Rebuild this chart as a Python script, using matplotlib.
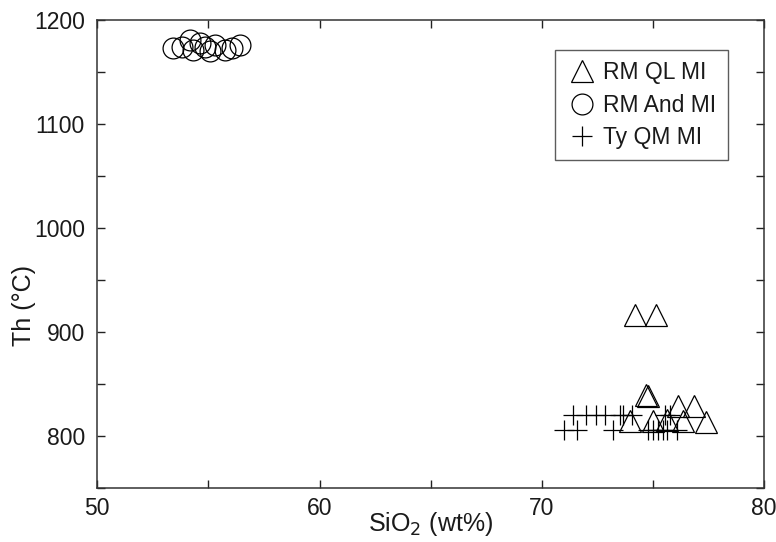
import matplotlib
matplotlib.use("Agg")
import matplotlib.pyplot as plt
from matplotlib.ticker import MultipleLocator

plt.rcParams['font.family'] = ['Liberation Sans', 'DejaVu Sans']

# RM QL MI (triangles)
ql_sio2 = [74.20, 75.14, 74.69, 74.80, 76.13, 76.85, 73.97, 75.00, 75.64, 76.36, 77.40]
ql_th = [916, 916, 839, 838, 828, 828, 814, 814, 815, 814, 813]

# RM And MI (circles)
and_sio2 = [53.42, 53.80, 54.17, 54.32, 54.62, 54.85, 55.07, 55.30, 55.75, 56.05, 56.42]
and_th = [1173, 1174, 1181, 1171, 1178, 1174, 1170, 1176, 1171, 1173, 1176]

# Ty QM MI (crosses)
qm_sio2 = [71.41, 71.99, 72.44, 72.85, 73.52, 73.66, 74.06, 75.54, 75.77,
           71.00, 71.59, 73.21, 74.79, 75.01, 75.24, 75.46, 75.64, 76.09]
qm_th = [820, 820, 820, 820, 820, 820, 820, 820, 820,
         805, 805, 805, 805, 805, 805, 805, 805, 805]

labels = ["RM QL MI", "RM And MI", "Ty QM MI"]

fig = plt.figure(figsize=(7.76, 5.42), dpi=100)
ax = fig.add_axes([97.3/776, 1 - 487.5/542, (764 - 97.3)/776, (487.5 - 20)/542])

lw = 0.9
ax.plot(ql_sio2, ql_th, linestyle='none', marker='^', markersize=16,
        markerfacecolor='none', markeredgecolor='black', markeredgewidth=lw, label=labels[0])
ax.plot(and_sio2, and_th, linestyle='none', marker='o', markersize=15,
        markerfacecolor='none', markeredgecolor='black', markeredgewidth=lw, label=labels[1])
ax.plot(qm_sio2, qm_th, linestyle='none', marker='+', markersize=15,
        markeredgecolor='black', markeredgewidth=lw, label=labels[2])

ax.set_xlim(50, 80)
ax.set_ylim(750, 1200)
ax.xaxis.set_major_locator(MultipleLocator(10))
ax.xaxis.set_minor_locator(MultipleLocator(5))
ax.yaxis.set_major_locator(MultipleLocator(100))
ax.yaxis.set_minor_locator(MultipleLocator(50))
ax.tick_params(which='both', direction='in', top=True, right=True, length=6,
               width=1.0, colors='#222222', labelsize=16.5, labelcolor='#1a1a1a')
ax.tick_params(axis='x', which='both', pad=7)
ax.tick_params(axis='y', which='both', pad=9)
for s in ax.spines.values():
    s.set_linewidth(1.1)
    s.set_color('#333333')

ax.set_xlabel("SiO$_2$ (wt%)", fontsize=18, color='#1a1a1a')
ax.set_ylabel("Th (°C)", fontsize=18, color='#1a1a1a')
ax.xaxis.set_label_coords(0.5, -(524 - 487.5)/467.5, transform=ax.transAxes)
ax.yaxis.set_label_coords(-(97.3 - 24)/666.7, (487.5 - 305)/467.5, transform=ax.transAxes)
ax.xaxis.label.set_verticalalignment('center')
ax.yaxis.label.set_verticalalignment('center')

leg = ax.legend(loc='upper right', bbox_to_anchor=((728 - 97.3)/666.7, 1 - 30/467.5),
                borderaxespad=0, fontsize=16.5, frameon=True, fancybox=False,
                handlelength=1.3, handletextpad=0.3, labelspacing=0.4,
                borderpad=0.5, numpoints=1)
leg.get_frame().set_edgecolor('#333333')
leg.get_frame().set_linewidth(1.0)
for t in leg.get_texts():
    t.set_color('#1a1a1a')

fig.savefig("out.png", dpi=100)
